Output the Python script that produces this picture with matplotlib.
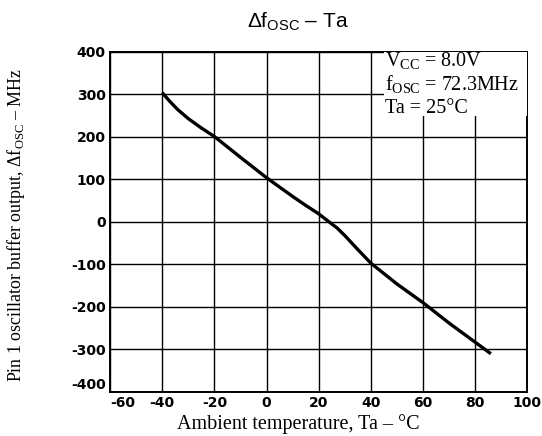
import matplotlib
matplotlib.use("Agg")
import matplotlib.pyplot as plt

plt.rcParams['axes.unicode_minus'] = False
plt.rcParams['mathtext.fontset'] = 'custom'
plt.rcParams['mathtext.rm'] = 'Liberation Serif'
plt.rcParams['mathtext.sf'] = 'Liberation Sans'

# curve
temp = [-40, -37, -34, -30, -25, -20, -10, 0, 10, 15, 20, 24, 27, 30, 35, 40, 50, 60, 70, 80, 86]
dfosc = [304, 283, 264, 243, 221, 201, 152, 104, 60, 39, 19, 0, -14, -32, -65, -97, -146, -190, -238, -283, -310]

x_ticks = [-60, -40, -20, 0, 20, 40, 60, 80, 100]
y_ticks = [-400, -300, -200, -100, 0, 100, 200, 300, 400]
cond_lines = [r'V$_{\rm CC}$ = 8.0V', r'f$_{\rm OSC}$ = 72.3MHz', r'Ta = 25°C']

fig = plt.figure(figsize=(5.42, 4.36), dpi=100)
ax = fig.add_axes([0.203, 0.101, 0.770, 0.780])

ax.plot(temp, dfosc, color='black', lw=2.4, zorder=4,
        solid_capstyle='butt', solid_joinstyle='round')

ax.set_xlim(-60, 100)
ax.set_ylim(-400, 400)
ax.set_xticks(x_ticks)
ax.set_yticks(y_ticks)
ax.grid(True, color='black', lw=1.0)
ax.tick_params(length=0, pad=3)
xlabs = ax.get_xticklabels()
ylabs = ax.get_yticklabels()
for lab in xlabs + ylabs:
    lab.set_fontfamily('DejaVu Sans')
    lab.set_fontweight('bold')
    lab.set_fontsize(10)
# corner labels sit apart like in the original
ylabs[0].set_va('bottom')
xlabs[0].set_ha('left')
for sp in ax.spines.values():
    sp.set_linewidth(1.4)

# white block over the grid where the test conditions sit
ax.fill_between([45, 100], 248, 400, color='white', zorder=3, lw=0)
for i, line in enumerate(cond_lines):
    ax.text(45.5, 378 - i * 56, line, fontsize=14.5, family='Liberation Serif',
            va='center', ha='left', zorder=5)

ax.set_xlabel('Ambient temperature, Ta – °C', family='Liberation Serif',
              fontsize=14.5)
ax.xaxis.set_label_coords(0.45, -0.066)
ax.set_ylabel(r'Pin 1 oscillator buffer output, $\Delta$f$_{\rm OSC}$ – MHz',
              family='Liberation Serif', fontsize=12.9)
ax.yaxis.set_label_coords(-0.2, 0.49)
fig.text(0.55, 0.95, r'$\mathsf{Δf_{OSC}}$ – Ta', family='Liberation Sans',
         fontsize=15, ha='center', va='center')

fig.savefig('out.png', dpi=100)
